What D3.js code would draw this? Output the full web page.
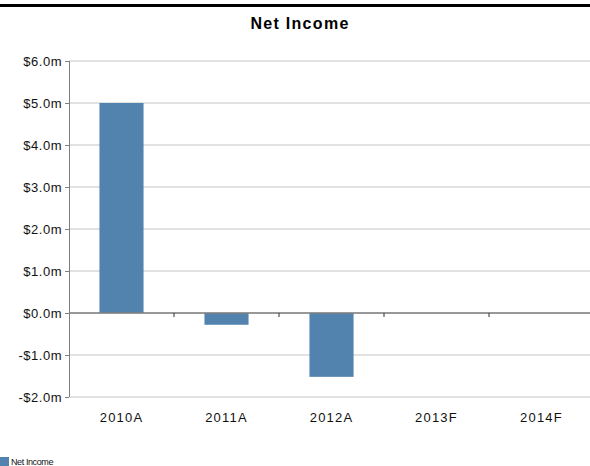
<!DOCTYPE html>
<html>
<head>
<meta charset="utf-8">
<script src="https://cdn.jsdelivr.net/npm/d3@7"></script>
<style>
  body { margin: 0; background: #fff; }
  svg { display: block; font-family: "Liberation Sans", Arial, sans-serif; }
</style>
</head>
<body>
<svg id="chart" width="590" height="466"></svg>
<script>
// chart values
const categories = ["2010A", "2011A", "2012A", "2013F", "2014F"];
const netIncome = [5.0, -0.28, -1.52, 0, 0];
const yTicks = [-2, -1, 0, 1, 2, 3, 4, 5, 6];
const seriesName = "Net Income";

const W = 590, H = 466;
const margin = {top: 61, right: -4, bottom: 69, left: 69};
const innerW = W - margin.left - margin.right,
  innerH = H - margin.top - margin.bottom;

const svg = d3.select("#chart");

// black rule along the top
svg.append("rect")
  .attr("x", 0).attr("y", 4)
  .attr("width", W).attr("height", 3)
  .attr("fill", "#000");

svg.append("text")
  .attr("x", 300).attr("y", 29)
  .attr("text-anchor", "middle")
  .style("font-size", "16px")
  .style("font-weight", "bold")
  .style("letter-spacing", "1.3px")
  .text("Net Income");

const g = svg.append("g")
  .attr("transform", "translate(" + margin.left + "," + margin.top + ")");

const x = d3.scaleBand().domain(categories).range([0, innerW]).paddingInner(0.58).paddingOuter(0.29);
const y = d3.scaleLinear().domain([-2, 6]).range([innerH, 0]);

// gridlines
g.selectAll(".grid")
  .data(yTicks)
  .enter().append("line")
  .attr("class", "grid")
  .attr("x1", 0).attr("x2", innerW)
  .attr("y1", d => y(d)).attr("y2", d => y(d))
  .attr("stroke", "#c4c4c4")
  .attr("stroke-width", 1);

// bars
g.selectAll(".bar")
  .data(categories.map((c, i) => ({cat: c, v: netIncome[i]})))
  .enter().append("rect")
  .attr("class", "bar")
  .attr("x", d => x(d.cat))
  .attr("width", x.bandwidth())
  .attr("y", d => y(Math.max(0, d.v)))
  .attr("height", d => Math.abs(y(d.v) - y(0)))
  .attr("fill", "#5283ae");

// y axis
const yAxis = d3.axisLeft(y)
  .tickValues(yTicks)
  .tickSize(4)
  .tickPadding(3)
  .tickFormat(d => (d < 0 ? "-$" : "$") + Math.abs(d).toFixed(1) + "m");

const ya = g.append("g").call(yAxis);
ya.select(".domain").attr("stroke", "#7f7f7f").attr("d", "M0.5," + innerH + "V0");
ya.selectAll(".tick line").attr("stroke", "#7f7f7f");
ya.selectAll(".tick text")
  .style("font-size", "13px")
  .style("letter-spacing", "0.5px")
  .style("font-family", "\"Liberation Sans\", Arial, sans-serif")
  .attr("fill", "#111");

// zero line with category ticks
const xa = g.append("g")
  .attr("transform", "translate(0," + y(0) + ")");
xa.append("line")
  .attr("x1", 0).attr("x2", innerW)
  .attr("stroke", "#7f7f7f").attr("stroke-width", 1.5);
const step = x.step();
xa.selectAll(".xtick")
  .data(categories.slice(1))
  .enter().append("line")
  .attr("x1", d => x(d) - x.paddingInner() * step / 2)
  .attr("x2", d => x(d) - x.paddingInner() * step / 2)
  .attr("y1", 0).attr("y2", 4)
  .attr("stroke", "#333");

// category labels at bottom
g.selectAll(".xlab")
  .data(categories)
  .enter().append("text")
  .attr("x", d => x(d) + x.bandwidth() / 2)
  .attr("y", innerH + 25)
  .attr("text-anchor", "middle")
  .style("font-size", "13px")
  .style("letter-spacing", "1.2px")
  .attr("fill", "#111")
  .text(d => d);

// legend
svg.append("rect")
  .attr("x", 0).attr("y", 457)
  .attr("width", 9).attr("height", 9)
  .attr("fill", "#5283ae");
svg.append("text")
  .attr("x", 11).attr("y", 465)
  .style("font-size", "9px")
  .style("letter-spacing", "-0.4px")
  .attr("fill", "#111")
  .text(seriesName);
</script>
</body>
</html>
